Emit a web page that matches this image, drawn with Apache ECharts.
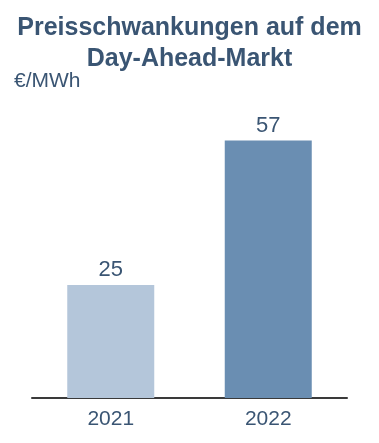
<!DOCTYPE html>
<html><head><meta charset="utf-8">
<script src="https://cdn.jsdelivr.net/npm/echarts@6/dist/echarts.min.js"></script>
<style>html,body{margin:0;padding:0;background:#fff}#c{width:379px;height:443px}</style>
</head><body><div id="c"></div>
<script>
const categories = ['2021', '2022'];
const values = [25, 57];
const barColors = ['#b4c6da', '#6a8eb2'];
const titleLines = ['Preisschwankungen auf dem', 'Day-Ahead-Markt'];
const unitLabel = '€/MWh';

const txt = '#3a5573';
const chart = echarts.init(document.getElementById('c'), null, {renderer: 'canvas'});
chart.setOption({
  animation: false,
  title: [{
    text: titleLines.join('\n'), left: 'center', top: 8,
    textStyle: {fontFamily: 'Liberation Sans', fontWeight: 'bold', fontSize: 25, color: txt, lineHeight: 31}
  }, {
    text: unitLabel, left: 9, top: 66,
    textStyle: {fontFamily: 'Liberation Sans', fontWeight: 'normal', fontSize: 21, color: txt}
  }],
  grid: {left: 32, right: 32, top: 127, bottom: 45},
  xAxis: {
    type: 'category', data: categories,
    axisLine: {lineStyle: {color: '#3a3a3a', width: 2}},
    axisTick: {show: false},
    axisLabel: {fontFamily: 'Liberation Sans', fontSize: 21, color: txt, margin: 11}
  },
  yAxis: {type: 'value', min: 0, max: 60, show: false, splitLine: {show: false}},
  series: [{
    type: 'bar', barWidth: 87,
    data: values.map((v, i) => ({value: v, itemStyle: {color: barColors[i]}})),
    label: {show: true, position: 'top', distance: 4, fontFamily: 'Liberation Sans', fontSize: 22, color: txt}
  }]
});
</script></body></html>
